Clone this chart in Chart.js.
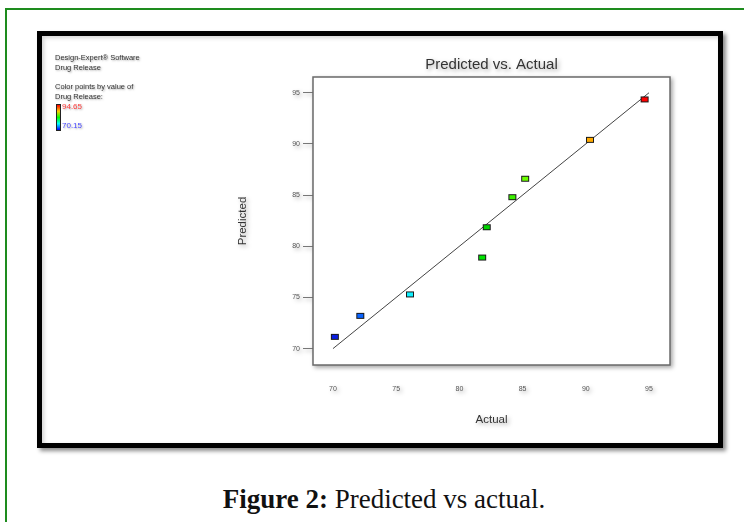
<!DOCTYPE html>
<html>
<head>
<meta charset="utf-8">
<script src="https://cdn.jsdelivr.net/npm/chart.js@4/dist/chart.umd.min.js"></script>
<style>
  html, body { margin: 0; padding: 0; background: #fff; }
  #page { position: relative; width: 744px; height: 522px; overflow: hidden; background: #fff;
          font-family: Arial, "Liberation Sans", sans-serif; }
  #greenbox { position: absolute; left: 5px; top: 8px; width: 800px; height: 600px;
              border-left: 2px solid #1e8c1e; border-top: 2px solid #1e8c1e; }
  #frame { position: absolute; left: 37px; top: 31px; width: 676px; height: 407px;
           border: 5px solid #000;
           box-shadow: 3px 3px 4px rgba(0,0,0,0.45), inset 2px 2px 4px rgba(0,0,0,0.18); }
  #chart { position: absolute; left: 0; top: 0; z-index: 2;
           filter: drop-shadow(2px 2px 2px rgba(0,0,0,0.35)); }
  .note { position: absolute; z-index: 3; color: #333; font-size: 7.5px; line-height: 9.5px;
          text-shadow: 1px 1px 2px rgba(0,0,0,0.35); white-space: nowrap; }
  #bar { position: absolute; left: 56px; top: 104px; width: 3px; height: 25px; z-index: 3;
         border: 1px solid #222;
         background: linear-gradient(to bottom, #ff0000, #ffcc00 25%, #00ff00 50%, #00ffff 75%, #0000ff); }
  #caption { position: absolute; left: 0; width: 768px; top: 484px; text-align: center;
             font-family: "Liberation Serif", "DejaVu Serif", serif; font-size: 27px; color: #111; }
</style>
</head>
<body>
<div id="page">
  <div id="greenbox"></div>
  <div id="frame"></div>
  <div class="note" style="left:55px; top:53px;">Design-Expert® Software<br>Drug Release</div>
  <div class="note" style="left:55px; top:82px;">Color points by value of<br>Drug Release:</div>
  <div id="bar"></div>
  <div class="note" style="left:62px; top:102px; color:#ff3b3b; font-size:8px;">94.65</div>
  <div class="note" style="left:62px; top:121px; color:#4a4aff; font-size:8px;">70.15</div>
  <canvas id="chart" width="744" height="522"></canvas>
  <div id="caption"><b>Figure 2:</b> Predicted vs actual.</div>
</div>
<script>
// Drug release runs: actual vs model-predicted values
const actual    = [70.15, 72.16, 76.09, 81.80, 82.16, 84.19, 85.20, 90.33, 94.65];
const predicted = [71.15, 73.20, 75.30, 78.90, 81.86, 84.80, 86.60, 90.40, 94.35];
const pointColors = ['#0a1ee0', '#0a64ff', '#10f0ff', '#00e400', '#00d400',
                     '#3cf000', '#6cff00', '#ffaa00', '#ff0000'];
// 45-degree reference line
const fitX = [70, 95];
const fitY = [70, 95];
const xTicks = [70, 75, 80, 85, 90, 95];
const yTicks = [70, 75, 80, 85, 90, 95];

// small rectangular marker with a dark outline
function makeMarker(color) {
  const c = document.createElement('canvas');
  c.width = 10; c.height = 8;
  const g = c.getContext('2d');
  g.fillStyle = color;
  g.fillRect(1, 1, 8, 6);
  g.strokeStyle = '#1a1a1a';
  g.lineWidth = 1;
  g.strokeRect(1.5, 1.5, 7, 5);
  return c;
}

// white plot panel with a grey outline on all four sides
const plotFrame = {
  id: 'plotFrame',
  beforeDraw(chart) {
    const { ctx, chartArea: a } = chart;
    ctx.save();
    ctx.fillStyle = '#fff';
    ctx.fillRect(a.left, a.top, a.width, a.height);
    ctx.restore();
  },
  beforeDatasetsDraw(chart) {
    const { ctx, chartArea: a } = chart;
    ctx.save();
    ctx.strokeStyle = '#6a6a6a';
    ctx.lineWidth = 1.5;
    ctx.strokeRect(a.left, a.top, a.width, a.height);
    ctx.restore();
  }
};

new Chart(document.getElementById('chart'), {
  data: {
    datasets: [
      {
        type: 'scatter',
        order: 0,
        data: actual.map((v, i) => ({ x: v, y: predicted[i] })),
        pointStyle: pointColors.map(makeMarker),
        pointRadius: 4,
        backgroundColor: pointColors
      },
      {
        type: 'line',
        order: 1,
        data: fitX.map((v, i) => ({ x: v, y: fitY[i] })),
        borderColor: '#444',
        borderWidth: 1,
        pointRadius: 0,
        fill: false
      }
    ]
  },
  options: {
    responsive: false,
    animation: false,
    devicePixelRatio: 1,
    layout: { padding: { left: 232, right: 74, top: 56, bottom: 91 } },
    plugins: {
      legend: { display: false },
      tooltip: { enabled: false },
      title: {
        display: true,
        fullSize: false,
        text: 'Predicted vs. Actual',
        color: '#333',
        font: { family: 'Arial, "Liberation Sans", sans-serif', size: 15, weight: 'normal' },
        padding: { top: 0, bottom: 3 }
      }
    },
    scales: {
      x: {
        type: 'linear',
        min: 68.42,
        max: 96.66,
        afterBuildTicks: s => { s.ticks = xTicks.map(v => ({ value: v })); },
        afterFit: s => { s.height = 66; },
        grid: { display: false },
        border: { display: false },
        ticks: { color: '#555', padding: 12, font: { family: 'Arial', size: 7 } },
        title: { display: true, text: 'Actual', color: '#333',
                 font: { family: 'Arial', size: 11.5 }, padding: { top: 4, bottom: 4 } }
      },
      y: {
        type: 'linear',
        min: 68.4,
        max: 96.54,
        afterBuildTicks: s => { s.ticks = yTicks.map(v => ({ value: v })); },
        afterFit: s => { s.width = 81; },
        grid: { drawOnChartArea: false, drawTicks: true, tickLength: 10, color: '#777', lineWidth: 1 },
        border: { display: false },
        ticks: { color: '#555', padding: 3, font: { family: 'Arial', size: 7 } },
        title: { display: true, text: 'Predicted', color: '#333',
                 font: { family: 'Arial', size: 11.5 }, padding: { top: 4, bottom: 4 } }
      }
    }
  },
  plugins: [plotFrame]
});
</script>
</body>
</html>
